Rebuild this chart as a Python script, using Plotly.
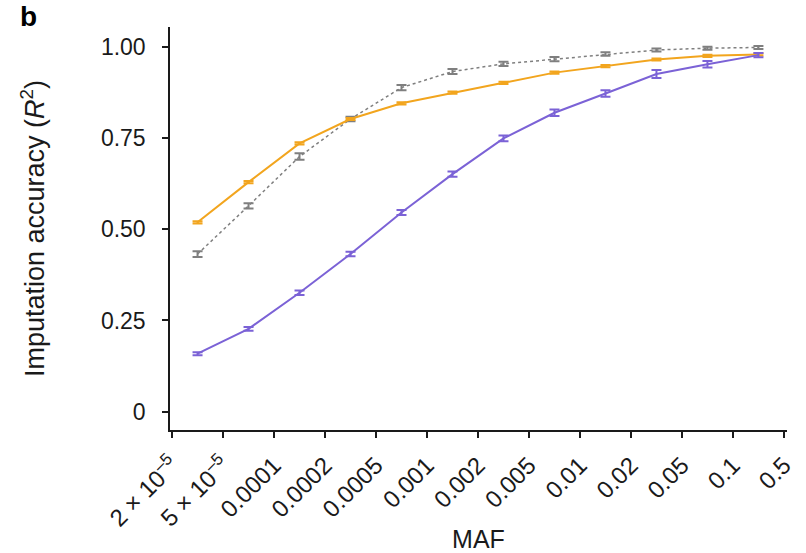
import numpy as np
import plotly.graph_objects as go

# MAF bin boundaries (tick labels)
tick_labels = ["2 × 10<sup>–5</sup>", "5 × 10<sup>–5</sup>", "0.0001", "0.0002", "0.0005",
               "0.001", "0.002", "0.005", "0.01", "0.02", "0.05", "0.1", "0.5"]

# Imputation accuracy per MAF bin (12 bins)
orange_r2 = [0.519, 0.629, 0.735, 0.802, 0.845, 0.874, 0.901, 0.929, 0.947, 0.965, 0.975, 0.979]
orange_err = [0.003, 0.003, 0.003, 0.003, 0.003, 0.003, 0.003, 0.003, 0.003, 0.003, 0.003, 0.003]

gray_r2 = [0.432, 0.564, 0.699, 0.802, 0.888, 0.932, 0.953, 0.966, 0.980, 0.991, 0.996, 0.998]
gray_err = [0.008, 0.007, 0.009, 0.006, 0.007, 0.007, 0.006, 0.006, 0.005, 0.004, 0.004, 0.004]

purple_r2 = [0.159, 0.227, 0.326, 0.432, 0.546, 0.651, 0.749, 0.819, 0.872, 0.925, 0.952, 0.977]
purple_err = [0.004, 0.005, 0.006, 0.006, 0.007, 0.007, 0.008, 0.009, 0.009, 0.011, 0.009, 0.006]

y_ticks = [0, 0.25, 0.5, 0.75, 1.0]
y_ticktext = ["0", "0.25", "0.50", "0.75", "1.00"]

tick_pos = np.arange(len(tick_labels))
bin_mid = tick_pos[:-1] + 0.5

FONT = "Liberation Sans, Arial, sans-serif"

fig = go.Figure()

def add_series(y, err, color, dash, lw):
    fig.add_trace(go.Scatter(
        x=bin_mid, y=y, mode="lines",
        line=dict(color=color, width=lw, dash=dash),
        error_y=dict(type="data", array=err, visible=True, color=color,
                     thickness=2, width=5),
        showlegend=False, hoverinfo="skip"))

add_series(gray_r2, gray_err, "#7f7f7f", "dot", 1.5)
add_series(orange_r2, orange_err, "#f2a51e", "solid", 2)
add_series(purple_r2, purple_err, "#7b62d6", "solid", 2)

fig.update_layout(
    width=806, height=553,
    margin=dict(l=170, r=19, t=27, b=123),
    plot_bgcolor="white", paper_bgcolor="white",
    font=dict(family=FONT, color="#1a1a1a"),
    xaxis=dict(
        range=[-0.04, 12.06], tickmode="array", tickvals=tick_pos, ticktext=tick_labels,
        tickangle=-45, ticks="outside", ticklen=6, tickwidth=1.5, tickcolor="#1a1a1a",
        showline=True, linecolor="#1a1a1a", linewidth=1.5, showgrid=False, zeroline=False,
        tickfont=dict(size=24, family=FONT), ticklabelstandoff=4, automargin=False,
        title=dict(text="MAF", font=dict(size=25, family=FONT), standoff=8),
    ),
    yaxis=dict(
        range=[-0.05, 1.054], tickmode="array", tickvals=y_ticks, ticktext=y_ticktext,
        ticks="outside", ticklen=6, tickwidth=1.5, tickcolor="#1a1a1a",
        showline=True, linecolor="#1a1a1a", linewidth=1.5, showgrid=False, zeroline=False,
        tickfont=dict(size=23, family=FONT), ticklabelstandoff=12, automargin=False,
        title=dict(text="Imputation accuracy (<i>R</i><sup>2</sup>)",
                   font=dict(size=27, family=FONT), standoff=48),
    ),
    annotations=[dict(text="<b>b</b>", xref="paper", yref="paper", x=-0.23, y=1.025,
                      xanchor="center", yanchor="middle", showarrow=False,
                      font=dict(size=28, family=FONT, color="black"))],
)

fig.write_html("out.html")
